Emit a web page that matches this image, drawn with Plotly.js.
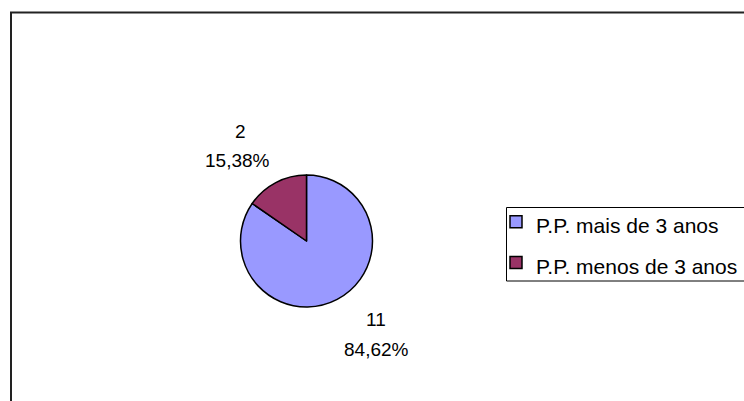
<!DOCTYPE html>
<html>
<head>
<meta charset="utf-8">
<script src="https://cdn.plot.ly/plotly-3.0.1.min.js"></script>
<style>html,body{margin:0;padding:0;background:#fff;}#chart{width:744px;height:401px;}</style>
</head>
<body>
<div id="chart"></div>
<script>
const categories = ["P.P. mais de 3 anos", "P.P. menos de 3 anos"];
const values = [11, 2];
const colors = ["#9999FF", "#993366"];

const W = 744, H = 401;
const total = values.reduce((a, b) => a + b, 0);
const pctText = v => (v / total * 100).toFixed(2).replace('.', ',') + '%';

// label anchor points (pixels) for value line and percent line
const labelPos = [
  {vx: 376, vy: 319, px: 376, py: 349},
  {vx: 240, vy: 131, px: 237, py: 160}
];
const px = x => x / W, py = y => 1 - y / H;

const annotations = [];
values.forEach((v, i) => {
  const p = labelPos[i];
  annotations.push({xref: 'paper', yref: 'paper', x: px(p.vx), y: py(p.vy), text: String(v),
    showarrow: false, xanchor: 'center', yanchor: 'middle', font: {size: 19, color: '#000'}});
  annotations.push({xref: 'paper', yref: 'paper', x: px(p.px), y: py(p.py), text: pctText(v),
    showarrow: false, xanchor: 'center', yanchor: 'middle', font: {size: 19, color: '#000'}});
});

const cx = 306.5, cy = 241, r = 66;
const trace = {
  type: 'pie',
  labels: categories.map(c => '<span style="font-size:21px">' + c + '</span>'),
  values: values,
  sort: false,
  direction: 'clockwise',
  rotation: 0,
  textposition: 'none',
  hoverinfo: 'label+value+percent',
  marker: {colors: colors, line: {color: '#000', width: 1.5}},
  domain: {x: [px(cx - r), px(cx + r)], y: [py(cy + r), py(cy - r)]}
};

const layout = {
  width: W, height: H,
  margin: {l: 0, r: 0, t: 0, b: 0},
  paper_bgcolor: '#fff',
  font: {family: 'Arial, "Liberation Sans", sans-serif', color: '#000'},
  showlegend: true,
  legend: {
    x: px(496), y: py(196.5), xanchor: 'left', yanchor: 'top',
    borderwidth: 0, bgcolor: 'rgba(0,0,0,0)',
    font: {size: 29, color: '#000'},
    traceorder: 'normal'
  },
  annotations: annotations,
  shapes: [{
    type: 'rect', xref: 'paper', yref: 'paper',
    x0: px(11), x1: 1.05, y0: -0.05, y1: py(12.5),
    line: {color: '#222', width: 2}, fillcolor: 'rgba(0,0,0,0)', layer: 'below'
  }, {
    type: 'rect', xref: 'paper', yref: 'paper',
    x0: px(506.5), x1: 1.05, y0: py(281), y1: py(207.5),
    line: {color: '#000', width: 1}, fillcolor: '#fff', layer: 'below'
  }]
};

Plotly.newPlot('chart', [trace], layout, {displayModeBar: false, staticPlot: true});
</script>
</body>
</html>
